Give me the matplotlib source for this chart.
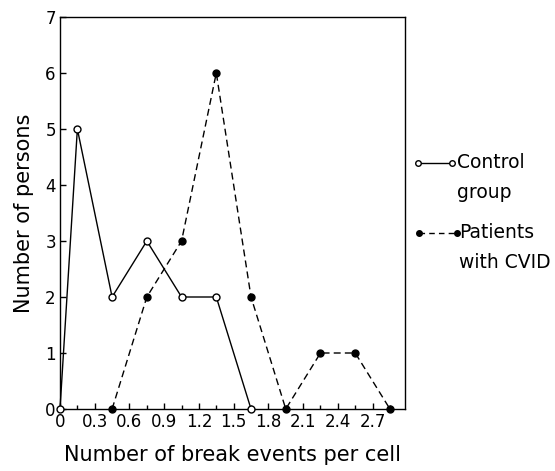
import matplotlib
matplotlib.use("Agg")
import matplotlib.pyplot as plt
from matplotlib.lines import Line2D

# Control group
ctrl_x = [0.0, 0.15, 0.45, 0.75, 1.05, 1.35, 1.65]
ctrl_y = [0, 5, 2, 3, 2, 2, 0]

# Patients with CVID
cvid_x = [0.45, 0.75, 1.05, 1.35, 1.65, 1.95, 2.25, 2.55, 2.85]
cvid_y = [0, 2, 3, 6, 2, 0, 1, 1, 0]

xticks = [0, 0.3, 0.6, 0.9, 1.2, 1.5, 1.8, 2.1, 2.4, 2.7]
xticklabels = ["0", "0.3", "0.6", "0.9", "1.2", "1.5", "1.8", "2.1", "2.4", "2.7"]
yticks = [0, 1, 2, 3, 4, 5, 6, 7]

W, H = 555, 471
fig = plt.figure(figsize=(W / 100, H / 100), dpi=100)
ax = fig.add_axes([60 / W, 62 / H, 345 / W, 392 / H])

ax.plot(ctrl_x, ctrl_y, "-", color="black", lw=1.0, marker="o", ms=5,
        mfc="white", mec="black", mew=1.0, clip_on=False, zorder=3)
ax.plot(cvid_x, cvid_y, "--", color="black", lw=1.0, dashes=(5, 3), marker="o",
        ms=5, mfc="black", mec="black", clip_on=False, zorder=3)

ax.set_xlim(0, 2.98)
ax.set_ylim(0, 7)
ax.set_xticks(xticks)
ax.set_xticklabels(xticklabels)
ax.set_xticks([0.15 + 0.3 * i for i in range(10)], minor=True)
ax.set_yticks(yticks)
ax.tick_params(direction="in", length=4, width=1, labelsize=12, pad=3)
ax.tick_params(which="minor", direction="in", length=3, width=1)
for s in ax.spines.values():
    s.set_linewidth(1.0)

ax.set_xlabel("Number of break events per cell", fontsize=15, labelpad=10)
ax.set_ylabel("Number of persons", fontsize=15, labelpad=8)

# legend drawn beside the axes
def fy(y):
    return 1 - y / H

fig.add_artist(Line2D([418 / W, 452 / W], [fy(163)] * 2, color="black",
                      lw=1.0, marker="o", ms=4, mfc="white", mec="black"))
fig.text(457 / W, fy(163), "Control", fontsize=13.5, va="center")
fig.text(457 / W, fy(192), "group", fontsize=13.5, va="center")
fig.add_artist(Line2D([419 / W, 457 / W], [fy(233)] * 2, color="black",
                      lw=1.0, ls="--", dashes=(4, 3), marker="o", ms=4,
                      mfc="black", mec="black"))
fig.text(459 / W, fy(233), "Patients", fontsize=13.5, va="center")
fig.text(459 / W, fy(262), "with CVID", fontsize=13.5, va="center")

fig.savefig("out.png", dpi=100)
